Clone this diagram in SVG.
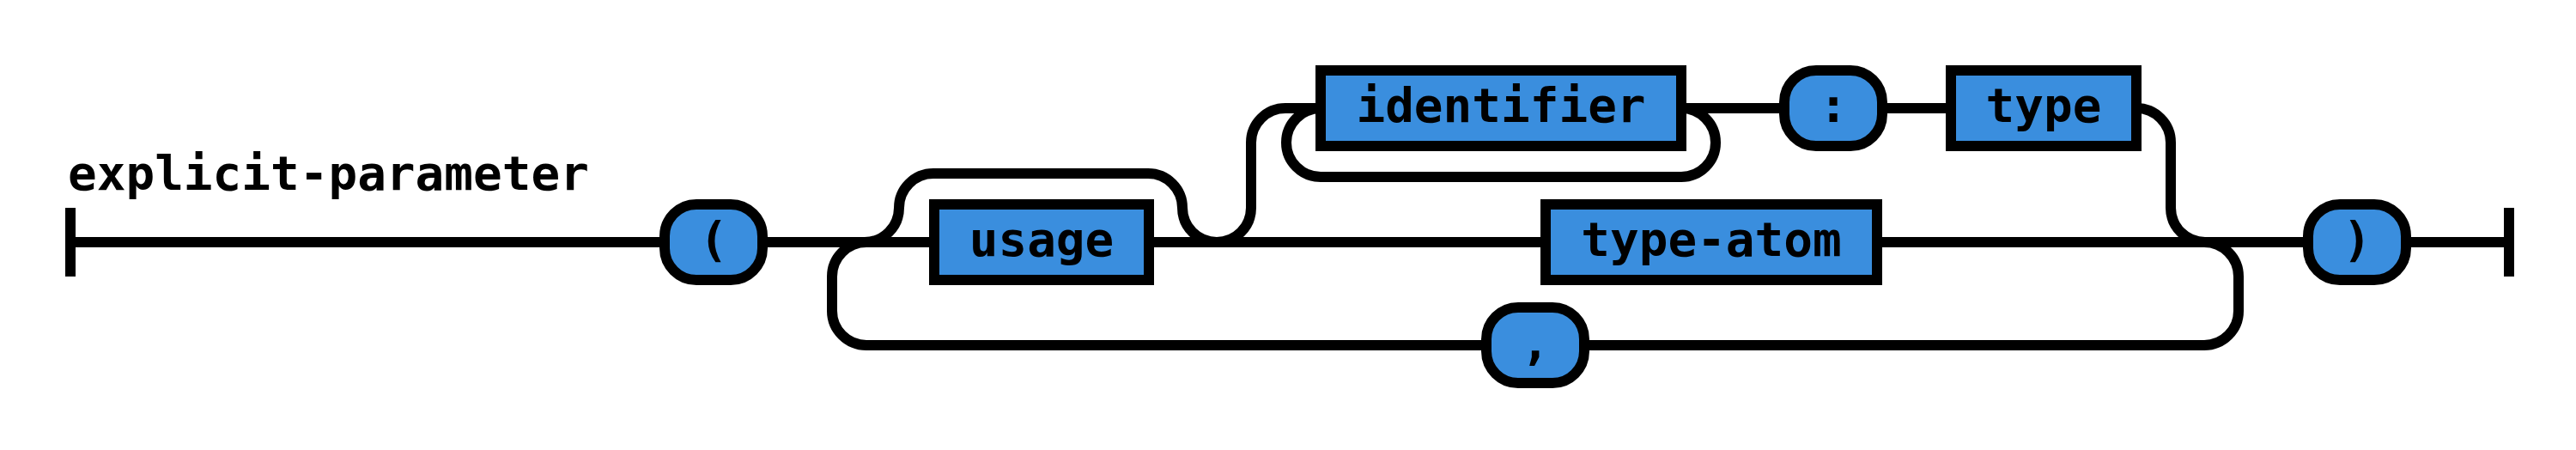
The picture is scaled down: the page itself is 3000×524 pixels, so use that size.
<svg xmlns="http://www.w3.org/2000/svg" width="3000" height="524" viewBox="0 0 3000 524">
<style>
.ln{fill:none;stroke:#000;stroke-width:12;stroke-linecap:butt;stroke-linejoin:round}
.box{fill:#3a8ede;stroke:#000;stroke-width:12}
.t{font-family:"DejaVu Sans Mono","Liberation Mono",monospace;font-weight:bold;font-size:56px;fill:#000;text-anchor:middle}
.title{font-family:"DejaVu Sans Mono","Liberation Mono",monospace;font-weight:bold;font-size:56px;fill:#000}
</style>
<rect width="3000" height="524" fill="#fff"/>
<text class="title" x="79" y="221">explicit-parameter</text>
<g id="connectors">
<path class="ln" d="M82 242V322M82 282H774"/>
<path class="ln" d="M888 282H1088"/>
<path class="ln" d="M1007 282A40 40 0 0 0 1047 242A40 40 0 0 1 1087 202H1337A40 40 0 0 1 1377 242A40 40 0 0 0 1417 282"/>
<path class="ln" d="M1338 282H1800"/>
<path class="ln" d="M1417 282A40 40 0 0 0 1457 242V166A40 40 0 0 1 1497 126H1538"/>
<path class="ln" d="M1958 126A40 40 0 0 1 1998 166A40 40 0 0 1 1958 206H1538A40 40 0 0 1 1498 166A40 40 0 0 1 1538 126"/>
<path class="ln" d="M1958 126H2078M2192 126H2272"/>
<path class="ln" d="M2488 126A40 40 0 0 1 2528 166V242A40 40 0 0 0 2568 282"/>
<path class="ln" d="M2186 282H2688"/>
<path class="ln" d="M2802 282H2922M2922 242V322"/>
<path class="ln" d="M2567 282A40 40 0 0 1 2607 322V362A40 40 0 0 1 2567 402H1845"/>
<path class="ln" d="M1731 402H1009A40 40 0 0 1 969 362V322A40 40 0 0 1 1009 282"/>
</g>
<g id="lparen"><rect class="box" x="774" y="238" width="114" height="88" rx="37" ry="37"/><text class="t" x="831" y="298">(</text></g>
<g id="usage"><rect class="box" x="1088" y="238" width="250" height="88"/><text class="t" x="1213" y="298">usage</text></g>
<g id="identifier"><rect class="box" x="1538" y="82" width="420" height="88"/><text class="t" x="1748" y="142">identifier</text></g>
<g id="colon"><rect class="box" x="2078" y="82" width="114" height="88" rx="37" ry="37"/><text class="t" x="2135" y="142">:</text></g>
<g id="type"><rect class="box" x="2272" y="82" width="216" height="88"/><text class="t" x="2380" y="142">type</text></g>
<g id="type-atom"><rect class="box" x="1800" y="238" width="386" height="88"/><text class="t" x="1993" y="298">type-atom</text></g>
<g id="comma"><rect class="box" x="1731" y="358" width="114" height="88" rx="37" ry="37"/><text class="t" x="1788" y="418">,</text></g>
<g id="rparen"><rect class="box" x="2688" y="238" width="114" height="88" rx="37" ry="37"/><text class="t" x="2745" y="298">)</text></g>
</svg>
